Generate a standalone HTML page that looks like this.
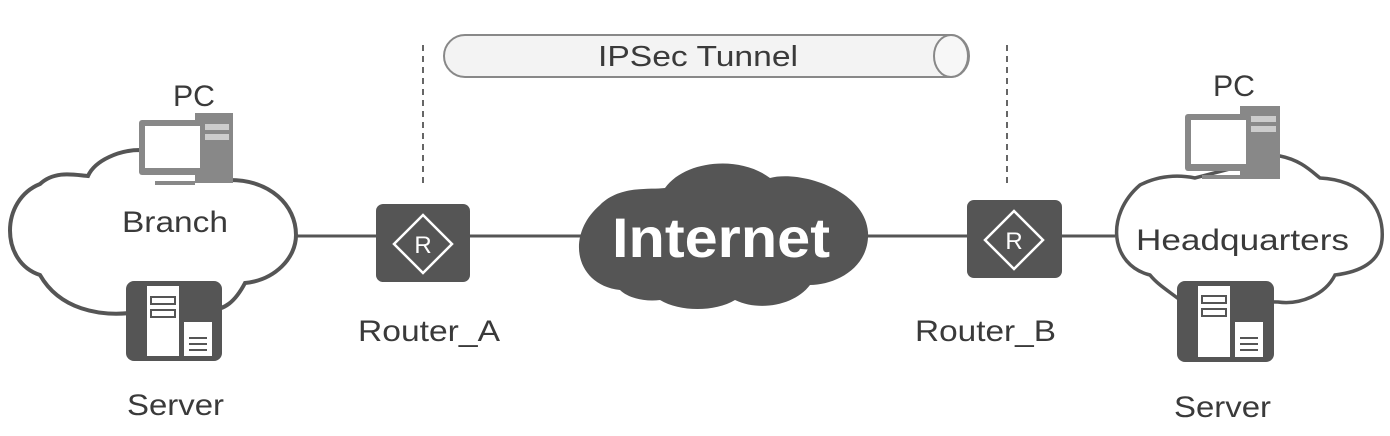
<!DOCTYPE html>
<html><head><meta charset="utf-8"><style>
html,body{margin:0;padding:0;background:#fff;width:1390px;height:436px;overflow:hidden}
svg{display:block}
text{font-family:"Liberation Sans",sans-serif;fill:#3a3a3a}
</style></head><body>
<svg width="1390" height="436" viewBox="0 0 1390 436">
<line x1="423" y1="45" x2="423" y2="186" stroke="#666" stroke-width="2" stroke-dasharray="6,5"/>
<line x1="1007" y1="45" x2="1007" y2="186" stroke="#666" stroke-width="2" stroke-dasharray="6,5"/>
<path d="M465,35 H951 A18,21 0 0 1 951,77 H465 A21,21 0 0 1 465,35 Z" fill="#f3f3f3" stroke="#888" stroke-width="2"/>
<ellipse cx="951" cy="56" rx="17" ry="21" fill="#f7f7f7" stroke="#888" stroke-width="2"/>
<text x="598" y="66" font-size="29" textLength="200" lengthAdjust="spacingAndGlyphs">IPSec Tunnel</text>
<line x1="294" y1="236" x2="1115" y2="236" stroke="#555" stroke-width="3"/>
<path d="M40,275 C0,262 0,200 40,184 C55,170 75,175 88,176 C95,160 120,150 140,150 L230,180 C270,180 296,205 296,235 C296,258 275,280 245,283 C236,300 225,312 205,310 L130,313 C100,316 60,310 40,275 Z" fill="#fff" stroke="#555" stroke-width="4"/>
<text x="122" y="232" font-size="30" textLength="106" lengthAdjust="spacingAndGlyphs">Branch</text>
<rect x="195" y="113" width="38" height="70" fill="#888"/>
<rect x="199" y="124" width="30" height="6" fill="#ccc"/>
<rect x="199" y="134" width="30" height="6" fill="#ccc"/>
<rect x="139" y="120" width="66" height="55" rx="3" fill="#888"/>
<rect x="145" y="126" width="55" height="42" fill="#fff"/>
<rect x="155" y="181" width="40" height="4" fill="#888"/>
<text x="173" y="106" font-size="30" textLength="42" lengthAdjust="spacingAndGlyphs">PC</text>
<rect x="126" y="281" width="96" height="80" rx="8" fill="#555"/>
<rect x="147" y="286" width="32" height="70" fill="#fff"/>
<rect x="151" y="297" width="24" height="7" fill="none" stroke="#555" stroke-width="2"/>
<rect x="151" y="310" width="24" height="7" fill="none" stroke="#555" stroke-width="2"/>
<rect x="184" y="322" width="28" height="34" fill="#fff"/>
<line x1="189" y1="338" x2="207" y2="338" stroke="#555" stroke-width="2"/>
<line x1="189" y1="344" x2="207" y2="344" stroke="#555" stroke-width="2"/>
<line x1="189" y1="350" x2="207" y2="350" stroke="#555" stroke-width="2"/>
<text x="127" y="415" font-size="30" textLength="97" lengthAdjust="spacingAndGlyphs">Server</text>
<rect x="376" y="204" width="94" height="78" rx="7" fill="#555"/>
<path d="M423,215 L452,244 L423,273 L394,244 Z" fill="none" stroke="#fff" stroke-width="2.5"/>
<text x="423" y="253" font-size="24" text-anchor="middle" style="fill:#fff">R</text>
<text x="358" y="341" font-size="30" textLength="142" lengthAdjust="spacingAndGlyphs">Router_A</text>
<path d="M620,290 C575,285 565,235 600,205 C620,185 650,190 665,188 C685,160 740,155 770,178 C800,170 865,190 868,232 C870,268 835,285 810,285 C795,305 760,312 735,300 C715,312 680,312 660,300 C645,302 628,298 620,290 Z" fill="#555"/>
<text x="612" y="257" font-size="56" font-weight="bold" textLength="218" lengthAdjust="spacingAndGlyphs" style="fill:#fff">Internet</text>
<rect x="967" y="200" width="95" height="78" rx="7" fill="#555"/>
<path d="M1014,211 L1043,240 L1014,269 L985,240 Z" fill="none" stroke="#fff" stroke-width="2.5"/>
<text x="1014" y="249" font-size="24" text-anchor="middle" style="fill:#fff">R</text>
<text x="915" y="341" font-size="30" textLength="141" lengthAdjust="spacingAndGlyphs">Router_B</text>
<path d="M1150,275 C1110,265 1105,215 1140,185 C1160,175 1180,175 1195,178 L1280,156 C1300,160 1310,170 1320,178 C1360,180 1385,205 1382,240 C1380,262 1360,272 1335,275 C1325,295 1300,305 1278,302 L1180,300 C1170,292 1158,285 1150,275 Z" fill="#fff" stroke="#555" stroke-width="3.5"/>
<text x="1136" y="250" font-size="30" textLength="213" lengthAdjust="spacingAndGlyphs">Headquarters</text>
<rect x="1240" y="106" width="40" height="73" fill="#888"/>
<rect x="1244" y="116" width="32" height="6" fill="#ccc"/>
<rect x="1244" y="126" width="32" height="6" fill="#ccc"/>
<rect x="1185" y="114" width="66" height="57" rx="3" fill="#888"/>
<rect x="1191" y="120" width="55" height="44" fill="#fff"/>
<rect x="1202" y="175" width="40" height="4" fill="#888"/>
<text x="1213" y="96" font-size="30" textLength="42" lengthAdjust="spacingAndGlyphs">PC</text>
<rect x="1177" y="281" width="97" height="81" rx="8" fill="#555"/>
<rect x="1198" y="286" width="32" height="71" fill="#fff"/>
<rect x="1202" y="296" width="24" height="7" fill="none" stroke="#555" stroke-width="2"/>
<rect x="1202" y="309" width="24" height="7" fill="none" stroke="#555" stroke-width="2"/>
<rect x="1235" y="322" width="28" height="35" fill="#fff"/>
<line x1="1240" y1="338" x2="1258" y2="338" stroke="#555" stroke-width="2"/>
<line x1="1240" y1="344" x2="1258" y2="344" stroke="#555" stroke-width="2"/>
<line x1="1240" y1="350" x2="1258" y2="350" stroke="#555" stroke-width="2"/>
<text x="1174" y="417" font-size="30" textLength="97" lengthAdjust="spacingAndGlyphs">Server</text>
</svg>
</body></html>
